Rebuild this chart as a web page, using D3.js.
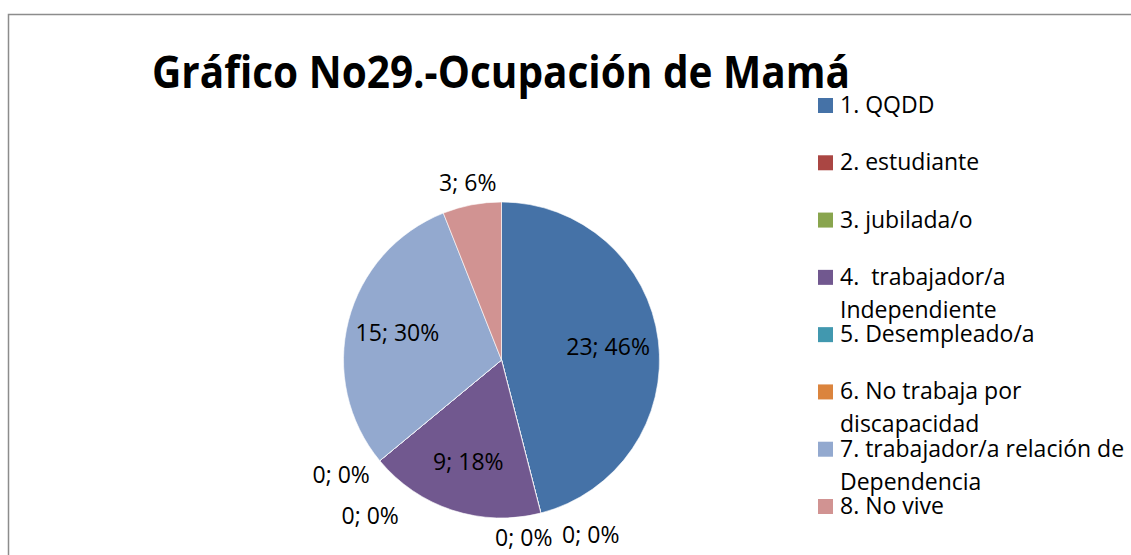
<!DOCTYPE html>
<html>
<head>
<meta charset="utf-8">
<script src="https://cdn.jsdelivr.net/npm/d3@7"></script>
<style>
  body { margin: 0; background: #fff; }
  svg text { font-family: "Open Sans", "Noto Sans", sans-serif; fill: #000; }
</style>
</head>
<body>
<svg id="chart" width="1131" height="555"></svg>
<script>
// Chart data
const categories = [
  '1. QQDD',
  '2. estudiante',
  '3. jubilada/o',
  '4.  trabajador/a Independiente',
  '5. Desempleado/a',
  '6. No trabaja por discapacidad',
  '7. trabajador/a relación de Dependencia',
  '8. No vive'
];
const counts = [23, 0, 0, 9, 0, 0, 15, 3];
const percents = [46, 0, 0, 18, 0, 0, 30, 6];
// legend text as wrapped in the original
const legendLines = [
  ['1. QQDD'],
  ['2. estudiante'],
  ['3. jubilada/o'],
  ['4.  trabajador/a', 'Independiente'],
  ['5. Desempleado/a'],
  ['6. No trabaja por', 'discapacidad'],
  ['7. trabajador/a relación de', 'Dependencia'],
  ['8. No vive']
];
const colors = ['#4572A7', '#AA4643', '#89A54E', '#71588F', '#4198AF', '#DB843D', '#93A9CF', '#D19392'];

const titleText = 'Gráfico No29.-Ocupación de Mamá';

const svg = d3.select('#chart');

// outer frame
svg.append('rect')
  .attr('x', 8.5).attr('y', 14.5)
  .attr('width', 1200).attr('height', 600)
  .attr('fill', 'none')
  .attr('stroke', '#8c8c8c')
  .attr('stroke-width', 1.5);

// title
svg.append('text')
  .attr('x', 152).attr('y', 88)
  .attr('font-size', 44)
  .attr('font-weight', 'bold')
  .attr('textLength', 698)
  .attr('lengthAdjust', 'spacingAndGlyphs')
  .text(titleText);

// pie
const cx = 501.5, cy = 360, R = 158;
const color = d3.scaleOrdinal().domain(categories).range(colors);
const pie = d3.pie().sort(null).value(d => d.count);
const data = categories.map((c, i) => ({ cat: c, count: counts[i], pct: percents[i], idx: i }));
const arcs = pie(data);
const arc = d3.arc().innerRadius(0).outerRadius(R);

const g = svg.append('g').attr('transform', `translate(${cx},${cy})`);

g.selectAll('path')
  .data(arcs)
  .enter()
  .append('path')
  .attr('d', arc)
  .attr('fill', d => color(d.data.cat))
  .attr('stroke', '#fff')
  .attr('stroke-width', 0.6);

// labels: inside for big slices, outside for small/zero ones
const innerArc = d3.arc().innerRadius(R * 0.68).outerRadius(R * 0.68);
const outerArc = d3.arc().innerRadius(R + 22).outerRadius(R + 22);
const zeroArc = d3.arc().innerRadius(R + 28).outerRadius(R + 28);

// Excel pushes stacked zero labels apart; nudges per zero slice
let zeroSeen = 0;
const zeroNudge = [[43, -5], [-24, -2], [-17, -4], [12, 37]];

g.selectAll('text.lbl')
  .data(arcs)
  .enter()
  .append('text')
  .attr('class', 'lbl')
  .attr('font-size', 23)
  .attr('text-anchor', 'middle')
  .attr('dy', '0.35em')
  .attr('transform', d => {
    let p;
    if (d.data.count === 0) {
      p = zeroArc.centroid(d);
      const n = zeroNudge[zeroSeen++] || [0, 0];
      p = [p[0] + n[0], p[1] + n[1]];
    } else if (d.data.pct < 10) {
      p = outerArc.centroid(d);
    } else {
      p = innerArc.centroid(d);
    }
    return `translate(${p[0]},${p[1]})`;
  })
  .text(d => `${d.data.count}; ${d.data.pct}%`);

// legend
const legendY = d3.scalePoint().domain(categories).range([113, 514]);
const legend = svg.append('g');
const items = legend.selectAll('g')
  .data(categories)
  .enter()
  .append('g')
  .attr('transform', d => `translate(818,${legendY(d)})`);

items.append('rect')
  .attr('x', 0).attr('y', -15)
  .attr('width', 15).attr('height', 15)
  .attr('fill', d => color(d));

items.each(function(d, i) {
  const t = d3.select(this).append('text')
    .attr('x', 22).attr('y', 0)
    .attr('font-size', 23)
    .style('white-space', 'pre');
  legendLines[i].forEach((line, k) => {
    t.append('tspan')
      .attr('x', 22)
      .attr('dy', k === 0 ? 0 : 33)
      .text(line);
  });
});
</script>
</body>
</html>
